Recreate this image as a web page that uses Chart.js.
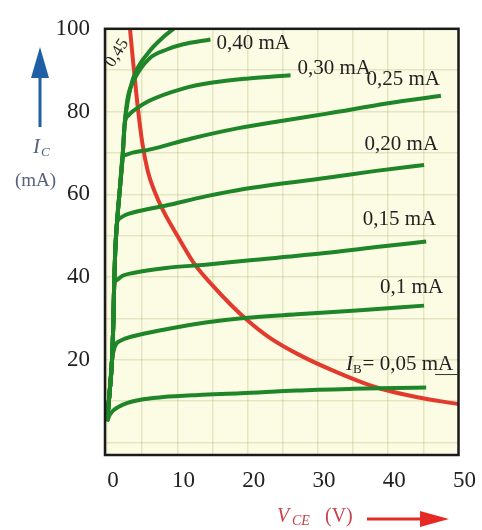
<!DOCTYPE html>
<html>
<head>
<meta charset="utf-8">
<script src="https://cdn.jsdelivr.net/npm/chart.js@4.4.0/dist/chart.umd.min.js"></script>
<style>
  body { margin: 0; background: #fff; }
  canvas { display: block; }
</style>
</head>
<body>
<canvas id="chart" width="482" height="530"></canvas>
<script>
// Tick labels and grid steps
const xTicks = [0, 10, 20, 30, 40, 50];
const yTicks = [20, 40, 60, 80, 100];
const xGrid = [0, 5, 10, 15, 20, 25, 30, 35, 40, 45, 50];
const yGrid = [0, 10, 20, 30, 40, 50, 60, 70, 80, 90, 100];

// Steep common rise near VCE = 0, [V, mA]
const rise = [[0, 5.2], [0.35, 12], [0.7, 20], [0.9, 30], [1.0, 38], [1.15, 46], [1.4, 53], [1.8, 61], [2.2, 69], [2.5, 77]];

// Flat part of each IB curve, [V, mA]
const ib005 = [[0.4, 6.8], [1.8, 8.8], [4.6, 10.3], [8, 11], [13, 11.5], [19, 11.9], [27, 12.6], [35, 13], [41, 13.2], [45.4, 13.3]];
const ib010 = [[1.1, 23.2], [2, 24.7], [3.7, 25.7], [8.4, 27.4], [14, 29], [19.5, 30.1], [27, 31], [35.5, 31.9], [45.1, 33.1]];
const ib015 = [[1.3, 39.2], [2.2, 40.3], [3.7, 41], [8.4, 42.2], [14, 43], [20, 44], [31, 45.8], [38, 47.2], [45.4, 48.6]];
const ib020 = [[1.8, 54.2], [2.6, 55], [3.7, 55.6], [8.4, 57.3], [14, 59.5], [19.5, 61.3], [31.3, 64], [38, 65.6], [45.1, 67.1]];
const ib025 = [[2.6, 69.5], [3.5, 70], [6, 70.8], [12, 73.5], [18.7, 76], [25, 77.8], [31.3, 79.5], [40, 82], [47.5, 83.8]];
const ib030 = [[3.0, 79], [4, 80.5], [6, 82.6], [10.7, 85.5], [15, 87], [20.1, 88], [26.1, 88.8]];
const ib040 = [[2.9, 83], [3.8, 87.5], [6, 92.8], [8.5, 95], [10.7, 96.2], [14.7, 97.4]];
const ib045 = [[3.0, 83], [3.7, 88], [6, 94.5], [8, 98], [9.8, 100.5], [11, 102.5]];

// Maximum power dissipation curve, [V, mA]
const pmax = [[3.2, 101], [3.7, 92], [4.3, 82], [5.0, 72.5], [5.8, 65.5], [6.8, 60.5], [8, 56], [10, 50], [12.5, 43], [15, 38],
  [17.5, 33.5], [20, 29.5], [23, 25.5], [27, 21.5], [32, 17.5], [38, 13.5], [44, 11], [50, 9.3]];

const curveNames = ["0,05 mA", "0,1 mA", "0,15 mA", "0,20 mA", "0,25 mA", "0,30 mA", "0,40 mA", "0,45"];
const curves = [ib005, ib010, ib015, ib020, ib025, ib030, ib040, ib045];

const green = "#1e8628";
const red = "#e23b2e";
const serif = "'Liberation Serif', 'DejaVu Serif', serif";

function withRise(branch) {
  const start = rise.filter(p => p[1] < branch[0][1]);
  return start.concat(branch).map(p => ({ x: p[0], y: p[1] }));
}

// label placement relative to the end of each curve (px)
const labelPos = [
  { dx: 27, dy: -23, align: "right" },
  { dx: 19, dy: -18, align: "right" },
  { dx: 10, dy: -22, align: "right" },
  { dx: 14, dy: -20, align: "right" },
  { dx: -1, dy: -16, align: "right" },
  { dx: 7, dy: -7, align: "left" },
  { dx: 6, dy: 4, align: "left" }
];

const decorPlugin = {
  id: "decor",
  beforeDraw(chart) {
    const { ctx, chartArea: a } = chart;
    ctx.save();
    ctx.fillStyle = "#fcfce4";
    ctx.fillRect(a.left, a.top, a.right - a.left, a.bottom - a.top);
    ctx.restore();
  },
  afterDraw(chart) {
    const { ctx, chartArea: a } = chart;
    ctx.save();

    // frame
    ctx.strokeStyle = "#1a1a1a";
    ctx.lineWidth = 2.5;
    ctx.strokeRect(a.left, a.top, a.right - a.left, a.bottom - a.top);

    // curve labels
    ctx.fillStyle = "#222";
    ctx.textBaseline = "middle";
    for (let i = 0; i < labelPos.length; i++) {
      const meta = chart.getDatasetMeta(i);
      const last = meta.data[meta.data.length - 1];
      const p = labelPos[i];
      const x = last.x + p.dx, y = last.y + p.dy;
      ctx.font = "21px " + serif;
      ctx.textAlign = p.align;
      if (i === 0) {
        // I_B = 0,05 mA
        const rest = "= 0,05 mA";
        ctx.fillText(rest, x, y);
        const wRest = ctx.measureText(rest).width;
        ctx.font = "13px " + serif;
        ctx.fillText("B", x - wRest - 1, y + 5);
        const wB = ctx.measureText("B").width;
        ctx.font = "italic 21px " + serif;
        ctx.fillText("I", x - wRest - wB - 1, y);
        ctx.strokeStyle = "#333";
        ctx.lineWidth = 1;
        ctx.beginPath();
        ctx.moveTo(x - 18, y + 10);
        ctx.lineTo(x + 4, y + 10);
        ctx.stroke();
      } else {
        ctx.fillText(curveNames[i], x, y);
      }
    }

    // rotated 0,45 label
    ctx.save();
    ctx.translate(117, 53);
    ctx.rotate(-58 * Math.PI / 180);
    ctx.font = "17px " + serif;
    ctx.textAlign = "center";
    ctx.fillText(curveNames[7], 0, 0);
    ctx.restore();

    // y axis title: arrow, I_C, (mA)
    ctx.fillStyle = "#1f5fa6";
    ctx.strokeStyle = "#1f5fa6";
    ctx.lineWidth = 3;
    ctx.beginPath();
    ctx.moveTo(40, 127);
    ctx.lineTo(40, 72);
    ctx.stroke();
    ctx.beginPath();
    ctx.moveTo(31, 78);
    ctx.lineTo(49, 78);
    ctx.lineTo(40, 47);
    ctx.closePath();
    ctx.fill();

    ctx.fillStyle = "#56637f";
    ctx.textAlign = "left";
    ctx.font = "italic 21px " + serif;
    ctx.fillText("I", 33, 147);
    ctx.font = "italic 13px " + serif;
    ctx.fillText("C", 41, 153);
    ctx.font = "19px " + serif;
    ctx.fillText("(mA)", 15, 181);

    // x axis title: V_CE (V) and arrow
    ctx.fillStyle = "#c8414b";
    ctx.font = "italic 20px " + serif;
    ctx.fillText("V", 277, 517);
    ctx.font = "italic 14px " + serif;
    ctx.fillText("CE", 292, 521);
    ctx.font = "20px " + serif;
    ctx.fillText("(V)", 325, 517);

    ctx.strokeStyle = "#e52a25";
    ctx.fillStyle = "#e52a25";
    ctx.lineWidth = 3;
    ctx.beginPath();
    ctx.moveTo(367, 519);
    ctx.lineTo(424, 519);
    ctx.stroke();
    ctx.beginPath();
    ctx.moveTo(420, 511);
    ctx.lineTo(449, 519);
    ctx.lineTo(420, 527);
    ctx.closePath();
    ctx.fill();

    ctx.restore();
  }
};

const datasets = curves.map((c, i) => ({
  label: curveNames[i],
  data: withRise(c),
  borderColor: green,
  borderWidth: 4,
  pointRadius: 0,
  fill: false,
  cubicInterpolationMode: "monotone"
}));
datasets.push({
  label: "Ptot",
  data: pmax.map(p => ({ x: p[0], y: p[1] })),
  borderColor: red,
  borderWidth: 4,
  pointRadius: 0,
  fill: false,
  cubicInterpolationMode: "monotone"
});

new Chart(document.getElementById("chart"), {
  type: "line",
  data: { datasets },
  plugins: [decorPlugin],
  options: {
    responsive: false,
    animation: false,
    devicePixelRatio: 1,
    layout: { padding: { left: 0, top: 22, right: 19, bottom: 0 } },
    plugins: { legend: { display: false }, tooltip: { enabled: false } },
    scales: {
      x: {
        type: "linear",
        min: -0.3,
        max: 50,
        afterBuildTicks: axis => { axis.ticks = xGrid.map(v => ({ value: v })); },
        afterFit: axis => { axis.height = 75; },
        grid: { color: "rgba(185,185,130,0.35)", lineWidth: 1.5, drawTicks: false },
        border: { display: false },
        ticks: {
          autoSkip: false,
          maxRotation: 0,
          padding: 12,
          labelOffset: 6,
          color: "#222",
          font: { family: serif, size: 23 },
          callback: v => xTicks.includes(v) ? String(v) : ""
        }
      },
      y: {
        type: "linear",
        min: -3,
        max: 100,
        afterBuildTicks: axis => { axis.ticks = yGrid.map(v => ({ value: v })); },
        afterFit: axis => { axis.width = 105; },
        grid: { color: "rgba(185,185,130,0.35)", lineWidth: 1.5, drawTicks: false },
        border: { display: false },
        ticks: {
          autoSkip: false,
          padding: 15,
          color: "#222",
          font: { family: serif, size: 23 },
          callback: v => yTicks.includes(v) ? String(v) : ""
        }
      }
    }
  }
});
</script>
</body>
</html>
